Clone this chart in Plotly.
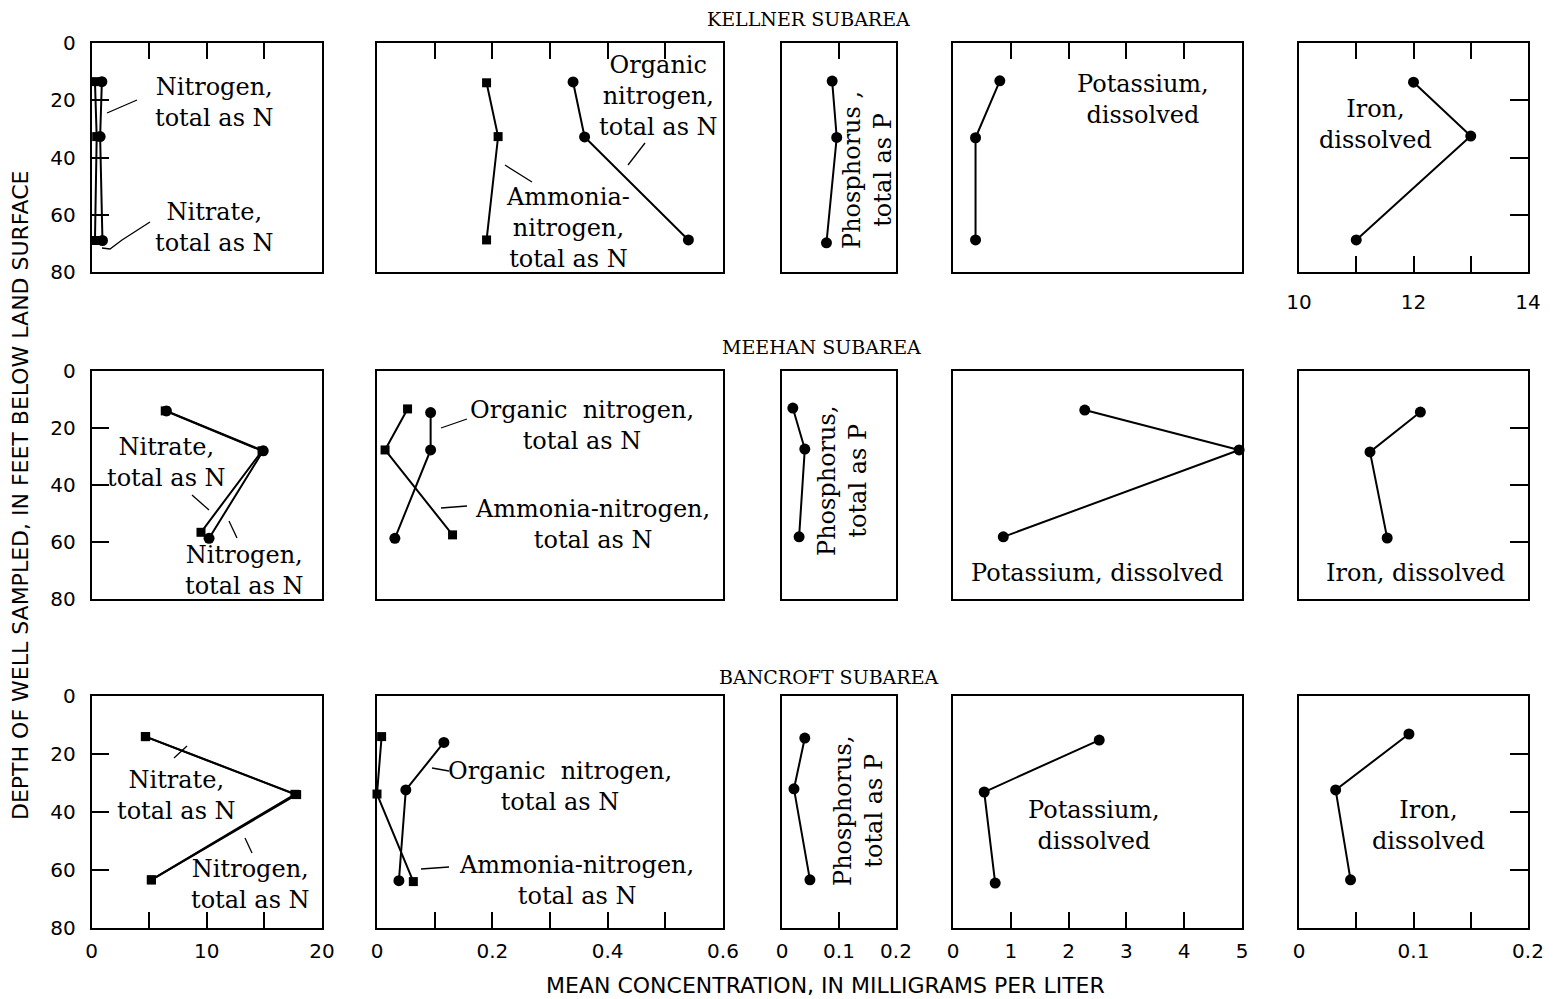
import plotly.graph_objects as go

W, H = 1556, 999

# ---- mean concentrations (mg/L) against depth of well sampled (ft) ----
# Kellner subarea
kellner_nitrate = [0.3, 0.45, 0.3]
kellner_nitrate_depth = [13.5, 32.7, 69.0]
kellner_n_total = [0.9, 0.75, 0.95]
kellner_n_total_depth = [13.5, 32.7, 69.0]
kellner_ammonia = [0.19, 0.21, 0.19]
kellner_ammonia_depth = [13.9, 32.7, 68.8]
kellner_organic = [0.34, 0.36, 0.54]
kellner_organic_depth = [13.6, 32.8, 68.8]
kellner_phosphorus = [0.088, 0.096, 0.078]
kellner_phosphorus_depth = [13.3, 33.0, 69.8]
kellner_potassium = [0.81, 0.39, 0.39]
kellner_potassium_depth = [13.2, 33.1, 68.8]
kellner_iron = [12.0, 13.0, 11.0]
kellner_iron_depth = [13.7, 32.5, 68.8]

# Meehan subarea
meehan_nitrate = [6.4, 14.8, 9.5]
meehan_nitrate_depth = [14.0, 28.0, 56.6]
meehan_n_total = [6.5, 14.9, 10.2]
meehan_n_total_depth = [14.0, 28.0, 58.7]
meehan_ammonia = [0.053, 0.014, 0.131]
meehan_ammonia_depth = [13.3, 27.7, 57.5]
meehan_organic = [0.093, 0.093, 0.031]
meehan_organic_depth = [14.6, 27.7, 58.7]
meehan_phosphorus = [0.019, 0.040, 0.030]
meehan_phosphorus_depth = [13.0, 27.4, 58.2]
meehan_potassium = [2.28, 4.95, 0.87]
meehan_potassium_depth = [13.7, 27.7, 58.2]
meehan_iron = [0.106, 0.062, 0.077]
meehan_iron_depth = [14.4, 28.4, 58.6]

# Bancroft subarea
bancroft_nitrate = [4.67, 17.65, 5.19]
bancroft_nitrate_depth = [14.0, 33.9, 63.4]
bancroft_n_total = [4.7, 17.8, 5.2]
bancroft_n_total_depth = [14.0, 34.0, 63.4]
bancroft_ammonia = [0.008, 0.0, 0.063]
bancroft_ammonia_depth = [14.0, 33.8, 64.0]
bancroft_organic = [0.116, 0.05, 0.038]
bancroft_organic_depth = [16.0, 32.4, 63.7]
bancroft_phosphorus = [0.040, 0.021, 0.049]
bancroft_phosphorus_depth = [14.5, 32.0, 63.4]
bancroft_potassium = [2.53, 0.54, 0.73]
bancroft_potassium_depth = [15.2, 33.1, 64.5]
bancroft_iron = [0.096, 0.032, 0.045]
bancroft_iron_depth = [13.1, 32.4, 63.4]

subarea_titles = ["KELLNER SUBAREA", "MEEHAN SUBAREA", "BANCROFT SUBAREA"]

# axis ranges and ticks per column (concentration)
col_ranges = [[0, 20], [0, 0.6], [0, 0.2], [0, 5], [0, 0.2]]
col_tickvals = [
    [0, 5, 10, 15, 20],
    [0, 0.1, 0.2, 0.3, 0.4, 0.5, 0.6],
    [0, 0.1, 0.2],
    [0, 1, 2, 3, 4, 5],
    [0, 0.05, 0.1, 0.15, 0.2],
]
col_ticktext = [
    ["0", "", "10", "", "20"],
    ["0", "", "0.2", "", "0.4", "", "0.6"],
    ["0", "0.1", "0.2"],
    ["0", "1", "2", "3", "4", "5"],
    ["0", "", "0.1", "", "0.2"],
]
kellner_iron_range = [10, 14]
kellner_iron_tickvals = [10, 11, 12, 13, 14]
kellner_iron_ticktext = ["10", "", "12", "", "14"]

depth_tickvals = [0, 20, 40, 60, 80]
depth_ticktext = ["0", "20", "40", "60", "80"]

# series drawn in each panel: (values, depths, marker symbol)
panels = [
    [
        [(kellner_nitrate, kellner_nitrate_depth, "square"),
         (kellner_n_total, kellner_n_total_depth, "circle")],
        [(kellner_ammonia, kellner_ammonia_depth, "square"),
         (kellner_organic, kellner_organic_depth, "circle")],
        [(kellner_phosphorus, kellner_phosphorus_depth, "circle")],
        [(kellner_potassium, kellner_potassium_depth, "circle")],
        [(kellner_iron, kellner_iron_depth, "circle")],
    ],
    [
        [(meehan_nitrate, meehan_nitrate_depth, "square"),
         (meehan_n_total, meehan_n_total_depth, "circle")],
        [(meehan_ammonia, meehan_ammonia_depth, "square"),
         (meehan_organic, meehan_organic_depth, "circle")],
        [(meehan_phosphorus, meehan_phosphorus_depth, "circle")],
        [(meehan_potassium, meehan_potassium_depth, "circle")],
        [(meehan_iron, meehan_iron_depth, "circle")],
    ],
    [
        [(bancroft_nitrate, bancroft_nitrate_depth, "square"),
         (bancroft_n_total, bancroft_n_total_depth, "square")],
        [(bancroft_ammonia, bancroft_ammonia_depth, "square"),
         (bancroft_organic, bancroft_organic_depth, "circle")],
        [(bancroft_phosphorus, bancroft_phosphorus_depth, "circle")],
        [(bancroft_potassium, bancroft_potassium_depth, "circle")],
        [(bancroft_iron, bancroft_iron_depth, "circle")],
    ],
]

# panel frames in page pixels
col_px = [(91.5, 322), (377, 723), (782, 896), (953, 1242), (1299, 1528)]
row_px = [(43, 272), (371, 599), (696, 928)]


def fx(px):
    return px / W


def fy(py):
    return 1 - py / H


SANS = "DejaVu Sans"
SERIF = "DejaVu Serif"
tick_font = dict(family=SANS, size=20, color="black")

fig = go.Figure()
layout = {}

for r in range(3):
    for c in range(5):
        idx = r * 5 + c + 1
        sfx = "" if idx == 1 else str(idx)
        for xs, ds, sym in panels[r][c]:
            fig.add_trace(go.Scatter(
                x=xs, y=ds, mode="lines+markers",
                xaxis="x" + sfx, yaxis="y" + sfx,
                line=dict(color="black", width=2),
                marker=dict(symbol=sym, size=11 if sym == "circle" else 9,
                            color="black"),
                cliponaxis=False, showlegend=False, hoverinfo="skip",
            ))

        x0, x1 = col_px[c]
        y0, y1 = row_px[r]
        xa = dict(
            domain=[fx(x0), fx(x1)], anchor="y" + sfx,
            showline=True, linecolor="black", linewidth=1.6, mirror=True,
            showgrid=False, zeroline=False, tickfont=tick_font,
            tickcolor="black", tickwidth=1.6, ticklen=16,
            automargin=False, ticklabelstandoff=4,
        )
        iron_k = (r == 0 and c == 4)
        rng = kellner_iron_range if iron_k else col_ranges[c]
        tv = kellner_iron_tickvals if iron_k else col_tickvals[c]
        tt = kellner_iron_ticktext if iron_k else col_ticktext[c]
        xa.update(range=rng, tickmode="array", tickvals=tv, ticktext=tt)
        if r == 0 and not iron_k:
            xa.update(side="top", ticks="inside", showticklabels=False)
        elif iron_k:
            xa.update(side="bottom", ticks="inside", mirror="ticks",
                      showticklabels=True, ticklabelstandoff=11)
        elif r == 1:
            xa.update(ticks="", showticklabels=False)
        else:
            xa.update(side="bottom", ticks="inside", showticklabels=True)

        ya = dict(
            domain=[fy(y1), fy(y0)], anchor="x" + sfx, range=[80, 0],
            showline=True, linecolor="black", linewidth=1.6, mirror=True,
            showgrid=False, zeroline=False, tickfont=tick_font,
            tickcolor="black", tickwidth=1.6, ticklen=18,
            automargin=False, ticklabelstandoff=10,
        )
        if c == 0:
            ya.update(side="left", ticks="inside", tickmode="array",
                      tickvals=depth_tickvals, ticktext=depth_ticktext,
                      showticklabels=True)
        elif c == 4:
            ya.update(side="right", ticks="inside", tickmode="array",
                      tickvals=[20, 40, 60], showticklabels=False)
        else:
            ya.update(ticks="", showticklabels=False)

        layout["xaxis" + sfx] = xa
        layout["yaxis" + sfx] = ya

annotations = []
shapes = []


def note(x, y, text, size=24, angle=0, family=SERIF):
    annotations.append(dict(
        x=fx(x), y=fy(y), xref="paper", yref="paper", text=text,
        showarrow=False, xanchor="center", yanchor="middle",
        textangle=angle, font=dict(family=family, size=size, color="black"),
    ))


def leader(*pts):
    path = "M " + " L ".join(f"{fx(px):.5f},{fy(py):.5f}" for px, py in pts)
    shapes.append(dict(type="path", path=path, xref="paper", yref="paper",
                       line=dict(color="black", width=1.3)))


# subarea headings
note(808, 19, subarea_titles[0], size=19)
note(822, 347, subarea_titles[1], size=19)
note(829, 677, subarea_titles[2], size=19)

# Kellner labels
note(214, 102, "Nitrogen,<br>total as N")
note(214, 227, "Nitrate,<br>total as N")
leader((137, 100), (107, 113))
leader((150, 222), (122, 240), (110, 249), (102, 248))
note(658, 96, "Organic<br>nitrogen,<br>total as N")
note(568, 228, "Ammonia-<br>nitrogen,<br>total as N")
leader((645, 143), (628, 165))
leader((505, 165), (532, 182))
note(868, 170, "Phosphorus ,<br>total as P", angle=-90)
note(1143, 100, "Potassium,<br>dissolved")
note(1375, 125, "Iron,<br>dissolved")

# Meehan labels
note(166, 462, "Nitrate,<br>total as N")
note(244, 570, "Nitrogen,<br>total as N")
leader((192, 495), (209, 510))
leader((229, 521), (237, 538))
note(582, 426, "Organic&nbsp; nitrogen,<br>total as N")
note(592, 524, "Ammonia-nitrogen,<br>total as N")
leader((467, 419), (441, 428))
leader((467, 506), (441, 508))
note(842, 480, "Phosphorus,<br>total as P", angle=-90)
note(1097, 573, "Potassium, dissolved")
note(1415, 573, "Iron, dissolved")

# Bancroft labels
note(176, 795, "Nitrate,<br>total as N")
note(250, 884, "Nitrogen,<br>total as N")
leader((174, 758), (187, 746))
leader((245, 838), (252, 853))
note(560, 786, "Organic&nbsp; nitrogen,<br>total as N")
note(576, 880, "Ammonia-nitrogen,<br>total as N")
leader((432, 768), (449, 771))
leader((421, 869), (449, 867))
note(858, 810, "Phosphorus,<br>total as P", angle=-90)
note(1094, 825, "Potassium,<br>dissolved")
note(1428, 825, "Iron,<br>dissolved")

# axis titles
note(20, 496, "DEPTH OF WELL SAMPLED, IN FEET BELOW LAND SURFACE",
     size=22, angle=-90, family=SANS)
note(825, 985, "MEAN CONCENTRATION, IN MILLIGRAMS PER LITER",
     size=22, family=SANS)

fig.update_layout(
    width=W, height=H, autosize=False,
    margin=dict(l=0, r=0, t=0, b=0, pad=0, autoexpand=False),
    paper_bgcolor="white", plot_bgcolor="white",
    annotations=annotations, shapes=shapes,
    **layout,
)

fig.write_html("out.html")
